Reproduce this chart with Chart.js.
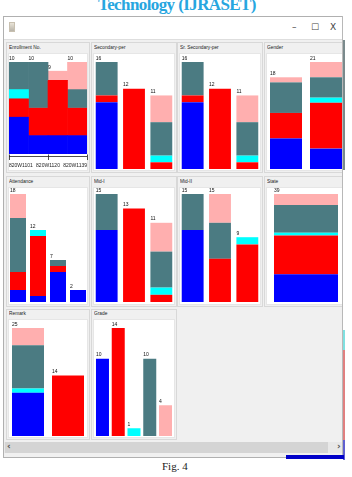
<!DOCTYPE html>
<html><head><meta charset="utf-8">
<script src="https://cdn.jsdelivr.net/npm/chart.js@4"></script>
<style>
html,body{margin:0;padding:0;background:#fff;width:352px;height:477px;overflow:hidden;position:relative;font-family:"Liberation Sans",Arial,sans-serif}
.abs{position:absolute}
#title{left:98px;top:-5px;font:bold 17px "Liberation Serif",serif;letter-spacing:-0.6px;color:#27a6df;white-space:nowrap}
.panel{position:absolute;border:1px solid #d8d8d8;box-sizing:border-box;background:#f0f0f0}
.white{position:absolute;background:#fff;border:1px solid #e6e6e6;box-sizing:border-box}
.plabel{position:absolute;font-size:6px;line-height:6px;color:#222;white-space:nowrap;transform:scaleX(0.8);transform-origin:0 0}
canvas{position:absolute}
#fig{left:162px;top:460px;font:11px "Liberation Serif",serif;color:#222}
</style>
</head><body>
<div id="title" class="abs">Technology (IJRASET)</div>
<div id="clip" class="abs" style="left:0;top:0;width:343px;height:477px;overflow:hidden">
  <div class="abs" style="left:3px;top:16px;width:341px;height:442px;border:1px solid #b0b0b0;box-sizing:border-box;background:#f0f0f0"></div>
  <div class="abs" style="left:4px;top:17px;width:339px;height:22px;background:#fff;border-bottom:1px solid #dedede"></div>
  <div class="abs" style="left:9px;top:22px;width:6px;height:10px;background:linear-gradient(#e9e4d8,#b8b3a8);border:1px solid #c8c0b0;box-sizing:border-box"></div>
  <div class="abs" style="left:292px;top:22px;font:9px 'DejaVu Sans';color:#444">–</div>
  <div class="abs" style="left:311px;top:22px;font:9px 'DejaVu Sans';color:#444">☐</div>
  <div class="abs" style="left:330px;top:22px;font:9px 'DejaVu Sans';color:#444">X</div>
  <div id="panels"></div>
  <div class="abs" style="left:4px;top:442px;width:339px;height:11px;background:#e8e8e8"></div>
  <div class="abs" style="left:5px;top:442px;width:323px;height:11px;background:#d4d4d4"></div>
  <div class="abs" style="left:7px;top:441px;font:bold 9px 'DejaVu Sans';color:#555">‹</div>
  <div class="abs" style="left:337px;top:441px;font:bold 9px 'DejaVu Sans';color:#555">›</div>
  <div class="abs" style="left:342px;top:16px;width:1px;height:442px;background:#b8b8b8"></div>
</div>
<div class="abs" style="left:343px;top:40px;width:2px;height:130px;background:#7a8a8c"></div>
<div class="abs" style="left:343px;top:330px;width:2px;height:20px;background:#7fe0e0"></div>
<div class="abs" style="left:343px;top:350px;width:2px;height:90px;background:#e08080"></div>
<div class="abs" style="left:343px;top:440px;width:2px;height:20px;background:#6060d0"></div>
<div class="abs" style="left:286px;top:455px;width:58px;height:4px;background:#0000c8"></div>
<div id="fig" class="abs">Fig. 4</div>
<script>
// ---------- DATA (class order, bottom to top: blue, red, cyan, grey, pink) ----------
const classNames = ['Grade 1','Grade 2','Grade 3','Grade 4','Grade 5'];
const classColors = ['#0000ff','#ff0000','#00ffff','rgb(75,123,130)','rgb(255,175,175)'];

const enrollmentBins = ['1101-1110','1110-1120','1120-1129','1129-1139'];
const enrollmentBlue = [4,2,2,2];
const enrollmentRed  = [2,3,6,3];
const enrollmentCyan = [1,0,0,0];
const enrollmentGrey = [3,5,0,2];
const enrollmentPink = [0,0,1,3];
const enrollmentTicks = [1101,1120,1139];
const enrollmentPrefix = '820W';

const secondaryCats = ['low','mid','high'];
const secondaryBlue = [10,0,0];
const secondaryRed  = [1,12,1];
const secondaryCyan = [0,0,1];
const secondaryGrey = [5,0,5];
const secondaryPink = [0,0,4];

const srSecondaryCats = ['low','mid','high'];
const srSecondaryBlue = [10,0,0];
const srSecondaryRed  = [1,12,1];
const srSecondaryCyan = [0,0,1];
const srSecondaryGrey = [5,0,5];
const srSecondaryPink = [0,0,4];

const genderCats = ['Male','Female'];
const genderBlue = [6,4];
const genderRed  = [5,9];
const genderCyan = [0,1];
const genderGrey = [6,4];
const genderPink = [1,3];

const attendanceCats = ['1','2','3','4'];
const attendanceBlue = [2,1,5,2];
const attendanceRed  = [3,10,1,0];
const attendanceCyan = [0,1,0,0];
const attendanceGrey = [9,0,1,0];
const attendancePink = [4,0,0,0];

const mid1Cats = ['1','2','3'];
const mid1Blue = [10,0,0];
const mid1Red  = [0,13,1];
const mid1Cyan = [0,0,1];
const mid1Grey = [5,0,5];
const mid1Pink = [0,0,4];

const mid2Cats = ['1','2','3'];
const mid2Blue = [10,0,0];
const mid2Red  = [0,6,8];
const mid2Cyan = [0,0,1];
const mid2Grey = [5,5,0];
const mid2Pink = [0,4,0];

const stateCats = ['State'];
const stateBlue = [10];
const stateRed  = [14];
const stateCyan = [1];
const stateGrey = [10];
const statePink = [4];

const remarkCats = ['Pass','Fail'];
const remarkBlue = [10,0];
const remarkRed  = [0,14];
const remarkCyan = [1,0];
const remarkGrey = [10,0];
const remarkPink = [4,0];

const gradeCats = ['1','2','3','4','5'];
const gradeBlue = [10,0,0,0,0];
const gradeRed  = [0,14,0,0,0];
const gradeCyan = [0,0,1,0,0];
const gradeGrey = [0,0,0,10,0];
const gradePink = [0,0,0,0,4];

// ---------- LAYOUT ----------
const colWhite = [[8,88],[93,175],[179,261],[266,346]];
const rowBarTop = [62,194,328];
const rowBarBottom = [169,302,436];
const rowWhite = [[53,171],[187,305],[319,438]];
const rowPanel = [[42,173],[176,307],[309,440]];

const panels = [
  {name:'Enrollment No.', col:0,row:0, cats:enrollmentBins, s:[enrollmentBlue,enrollmentRed,enrollmentCyan,enrollmentGrey,enrollmentPink], hist:true, pad:1},
  {name:'Secondary-per', col:1,row:0, cats:secondaryCats, s:[secondaryBlue,secondaryRed,secondaryCyan,secondaryGrey,secondaryPink]},
  {name:'Sr. Secondary-per', col:2,row:0, cats:srSecondaryCats, s:[srSecondaryBlue,srSecondaryRed,srSecondaryCyan,srSecondaryGrey,srSecondaryPink]},
  {name:'Gender', col:3,row:0, cats:genderCats, s:[genderBlue,genderRed,genderCyan,genderGrey,genderPink]},
  {name:'Attendance', col:0,row:1, cats:attendanceCats, s:[attendanceBlue,attendanceRed,attendanceCyan,attendanceGrey,attendancePink]},
  {name:'Mid-I', col:1,row:1, cats:mid1Cats, s:[mid1Blue,mid1Red,mid1Cyan,mid1Grey,mid1Pink]},
  {name:'Mid-II', col:2,row:1, cats:mid2Cats, s:[mid2Blue,mid2Red,mid2Cyan,mid2Grey,mid2Pink]},
  {name:'State', col:3,row:1, cats:stateCats, s:[stateBlue,stateRed,stateCyan,stateGrey,statePink]},
  {name:'Remark', col:0,row:2, cats:remarkCats, s:[remarkBlue,remarkRed,remarkCyan,remarkGrey,remarkPink]},
  {name:'Grade', col:1,row:2, cats:gradeCats, s:[gradeBlue,gradeRed,gradeCyan,gradeGrey,gradePink], pad:1.6, cp:0.825}
];

const totalsPlugin = {
  id:'totals',
  afterDatasetsDraw(chart){
    const ctx = chart.ctx, ys = chart.scales.y, n = chart.data.labels.length;
    ctx.save();
    ctx.fillStyle = '#111';
    ctx.font = '5px "Liberation Sans"';
    ctx.textAlign = 'left';
    ctx.textBaseline = 'alphabetic';
    for (let i=0;i<n;i++){
      let t = 0;
      chart.data.datasets.forEach(d => t += d.data[i]);
      const el = chart.getDatasetMeta(0).data[i];
      ctx.fillText(String(t), el.x - el.width/2, ys.getPixelForValue(t) - 2.5);
    }
    // numeric histogram axis (Enrollment No.): min / mid / max along the bin extent
    if (chart.options.plugins.totals && chart.options.plugins.totals.histAxis){
      const meta = chart.getDatasetMeta(0).data;
      const x0 = meta[0].x - meta[0].width/2;
      const x1 = meta[meta.length-1].x + meta[meta.length-1].width/2;
      const vmin = enrollmentTicks[0], vmax = enrollmentTicks[enrollmentTicks.length-1];
      const px = v => x0 + (v - vmin) / (vmax - vmin) * (x1 - x0);
      const base = ys.getPixelForValue(0);
      const yl = base + 2.5;
      ctx.strokeStyle = '#222';
      ctx.lineWidth = 0.8;
      ctx.beginPath();
      ctx.moveTo(x0, yl); ctx.lineTo(x1, yl);
      enrollmentTicks.forEach(v => {
        const x = Math.round(px(v)) + 0.5;
        ctx.moveTo(x, base + 0.5); ctx.lineTo(x, base + 6);
      });
      ctx.stroke();
      ctx.fillStyle = '#222';
      ctx.font = '5px "Liberation Sans"';
      enrollmentTicks.forEach((v, i) => {
        ctx.textAlign = i === 0 ? 'left' : (i === enrollmentTicks.length-1 ? 'right' : 'center');
        ctx.fillText(enrollmentPrefix + v, px(v), base + 13);
      });
    }
    ctx.restore();
  }
};

const host = document.getElementById('panels');
panels.forEach((p, k) => {
  const [wl, wr] = p.col === 3 ? [266,343] : colWhite[p.col];
  const [pt, pb] = rowPanel[p.row];
  const [wt, wb] = rowWhite[p.row];
  const pan = document.createElement('div');
  pan.className = 'panel';
  pan.style.cssText = `left:${wl-2}px;top:${pt}px;width:${wr-wl+4}px;height:${pb-pt}px`;
  host.appendChild(pan);
  const wh = document.createElement('div');
  wh.className = 'white';
  wh.style.cssText = `left:${wl}px;top:${wt}px;width:${wr-wl}px;height:${wb-wt}px`;
  host.appendChild(wh);
  const lab = document.createElement('div');
  lab.className = 'plabel';
  lab.textContent = p.name;
  lab.style.cssText = `left:${wl+1}px;top:${wt-9}px`;
  host.appendChild(lab);

  const cw = colWhite[p.col];
  const cv = document.createElement('canvas');
  const top = rowBarTop[p.row] - 9;
  const h = p.hist ? (rowWhite[0][1] - top) : (rowBarBottom[p.row] - rowBarTop[p.row] + 11);
  cv.width = cw[1]-cw[0]; cv.height = h;
  cv.style.left = cw[0]+'px'; cv.style.top = top+'px';
  cv.style.width = cv.width+'px'; cv.style.height = h+'px';
  host.appendChild(cv);

  const totals = p.cats.map((_, i) => p.s.reduce((a, arr) => a + arr[i], 0));
  const maxT = Math.max(...totals);
  new Chart(cv, {
    type:'bar',
    data:{
      labels:p.cats,
      datasets:p.s.map((arr, j) => ({
        label:classNames[j], data:arr, backgroundColor:classColors[j], borderWidth:0,
        categoryPercentage: p.hist ? 1 : (p.cp || 0.8), barPercentage:1
      }))
    },
    options:{
      responsive:false, maintainAspectRatio:false, animation:false, devicePixelRatio:1,
      layout:{padding:{top:9, bottom: p.hist ? 17 : 2, left:p.pad||0, right:p.pad||0}},
      plugins:{legend:{display:false}, tooltip:{enabled:false}, totals:{histAxis:!!p.hist}},
      scales:{
        x:{display:false, stacked:true},
        y:{display:false, stacked:true, min:0, max:maxT}
      }
    },
    plugins:[totalsPlugin]
  });
});
</script>
</body></html>
